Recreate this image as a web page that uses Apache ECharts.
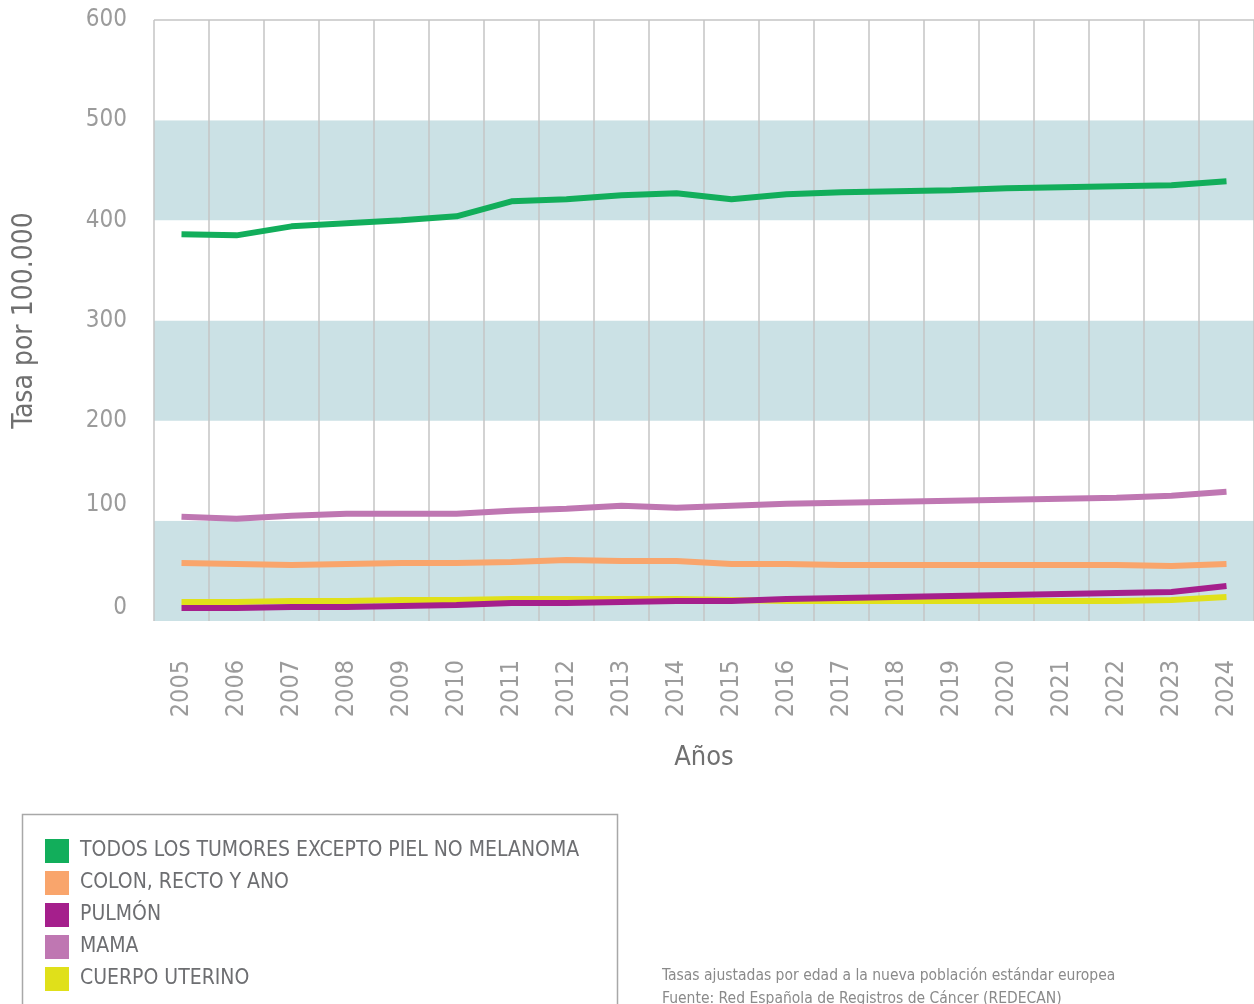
<!DOCTYPE html>
<html>
<head>
<meta charset="utf-8">
<script src="https://cdn.jsdelivr.net/npm/echarts@6/dist/echarts.min.js"></script>
<style>html,body{margin:0;padding:0;background:#fff}#c{width:1254px;height:1004px}</style>
</head>
<body>
<div id="c"></div>
<script>
const years = ['2005','2006','2007','2008','2009','2010','2011','2012','2013','2014','2015','2016','2017','2018','2019','2020','2021','2022','2023','2024'];
const todos   = [386,385,394,397,400,404,419,421,425,427,421,426,428,429,430,432,433,434,435,439];
const colon   = [58,57,56,57,58,58,59,61,60,60,57,57,56,56,56,56,56,56,55,57];
const pulmon  = [13,13,14,14,15,16,18,18,19,20,20,22,23,24,25,26,27,28,29,35];
const mama    = [104,102,105,107,107,107,110,112,115,113,115,117,118,119,120,121,122,123,125,129];
const uterino = [19,19,20,20,21,21,22,22,22,22,21,20,20,20,20,20,20,20,21,24];
const yTicks  = [0,100,200,300,400,500,600];
const names = ['TODOS LOS TUMORES EXCEPTO PIEL NO MELANOMA','COLON, RECTO Y ANO','PULMÓN','MAMA','CUERPO UTERINO'];

const FONT = '"Liberation Sans Narrow","DejaVu Sans Condensed","Roboto",sans-serif';
const chart = echarts.init(document.getElementById('c'), null, {renderer:'canvas'});
function ser(name, data, color, z){
  return {name, type:'line', data, symbol:'none', z,
    lineStyle:{color, width:6}, itemStyle:{color}, emphasis:{disabled:true}};
}
chart.setOption({
  animation:false,
  grid:{left:154, right:0, top:20, bottom:383, containLabel:false},
  xAxis:{type:'category', data:years, boundaryGap:true,
    axisLine:{show:false}, axisTick:{show:false},
    splitLine:{show:true, lineStyle:{color:'#c4c4c4', width:1.5}},
    axisLabel:{rotate:90, margin:39, fontSize:25, color:'#9b9b9b', fontFamily:FONT},
    name:'Años', nameLocation:'middle', nameGap:123,
    nameTextStyle:{fontSize:27, color:'#707070', fontFamily:FONT}},
  yAxis:{type:'value', min:yTicks[0], max:yTicks[yTicks.length-1], interval:100,
    axisLine:{show:false}, axisTick:{show:false},
    axisLabel:{margin:27, fontSize:24, color:'#9b9b9b', fontFamily:FONT,
      formatter:function(v){ if(v===100) return '{a|'+v+'}'; if(v===0) return '{b|'+v+'}'; return String(v); },
      rich:{
        a:{fontSize:24, color:'#9b9b9b', fontFamily:FONT, padding:[0,0,32,0]},
        b:{fontSize:24, color:'#9b9b9b', fontFamily:FONT, padding:[0,0,26,0]}
      }},
    splitLine:{show:true, lineStyle:{color:['rgba(0,0,0,0)','rgba(0,0,0,0)','rgba(0,0,0,0)','rgba(0,0,0,0)','rgba(0,0,0,0)','rgba(0,0,0,0)','#c4c4c4'], width:1.5}},
    splitArea:{show:true, areaStyle:{color:['#cbe1e5','#ffffff']}},
    name:'Tasa por 100.000', nameLocation:'middle', nameGap:115, nameRotate:90,
    nameTextStyle:{fontSize:28, color:'#707070', fontFamily:FONT}},
  legend:{orient:'vertical', left:45, top:839, padding:0, itemGap:8,
    itemWidth:24, itemHeight:24, icon:'rect', data:names,
    textStyle:{fontSize:21, color:'#6d6e71', fontFamily:FONT, padding:[0,0,0,6]}},
  graphic:[
    {type:'rect', left:20, top:812, shape:{width:595, height:230},
     style:{fill:'none', stroke:'#a8a8a8', lineWidth:1.5}, silent:true},
    {type:'text', left:662, top:968, style:{text:'Tasas ajustadas por edad a la nueva población estándar europea', fontSize:15.5, fill:'#8a8a8a', fontFamily:FONT}},
    {type:'text', left:662, top:991, style:{text:'Fuente: Red Española de Registros de Cáncer (REDECAN)', fontSize:15.5, fill:'#8a8a8a', fontFamily:FONT}}
  ],
  series:[
    ser(names[0], todos, '#12ae5b', 5),
    ser(names[1], colon, '#f9a56c', 4),
    ser(names[4], uterino, '#e0e01a', 2),
    ser(names[3], mama, '#bf77b2', 3),
    ser(names[2], pulmon, '#a51f8c', 6)
  ]
});
</script>
</body>
</html>
